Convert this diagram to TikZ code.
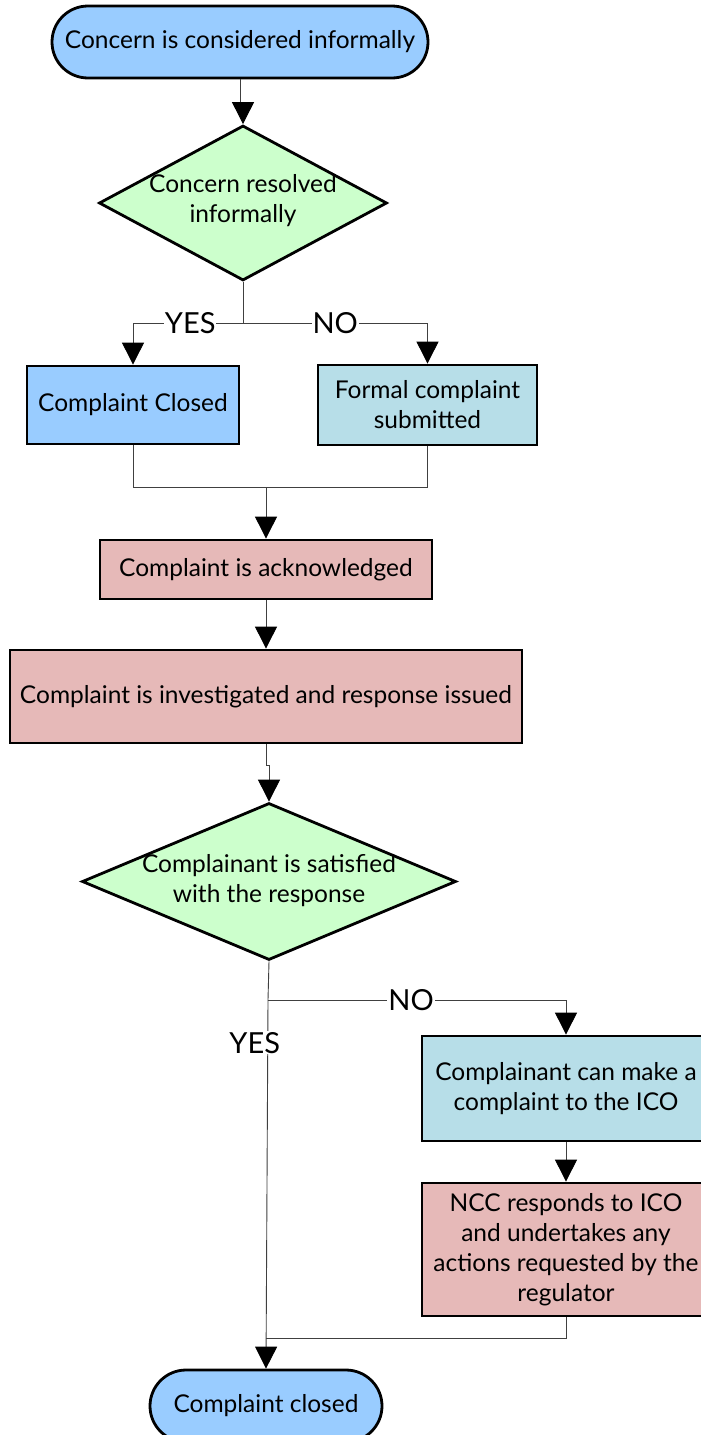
\documentclass[tikz,border=0pt]{standalone}
\usepackage{fontspec}
\setmainfont{Lato}
\usetikzlibrary{shapes.geometric, arrows.meta}
\definecolor{termblue}{RGB}{153, 204, 255}
\definecolor{decgreen}{RGB}{204, 255, 204}
\definecolor{formteal}{RGB}{183, 222, 232}
\definecolor{actrose}{RGB}{230, 185, 184}

\begin{document}
\begin{tikzpicture}[x=1pt, y=-1pt,
    every node/.style={font=\fontsize{24.5}{30}\selectfont},
    term/.style={rectangle, rounded corners=36pt, draw=black, line width=2.8pt, fill=termblue, minimum height=72pt, inner sep=1pt},
    process/.style={rectangle, draw=black, line width=2.8pt, align=center, inner sep=1pt},
    decision/.style={diamond, draw=black, line width=2.8pt, fill=decgreen, inner sep=0pt},
    tag/.style={fill=white, inner sep=1pt, font=\fontsize{29}{30}\selectfont},
    flow/.style={line width=0.9pt, draw=black!75},
    flowarr/.style={flow, -{Triangle[length=22pt, width=22pt, black]}}]
    \path[use as bounding box, fill=white] (0,0) rectangle (701,1435);

    % boxes
    \node[term, minimum width=376pt] (start) at (240,42) {Concern is considered informally};
    \node[decision, minimum width=288pt, minimum height=155pt] (dec1) at (243,203) {};
    \node[align=center] (dec1txt) at (243,201) {Concern resolved\\informally};
    \node[process, fill=termblue, minimum width=212pt, minimum height=78pt] (closed1) at (133,405) {Complaint Closed};
    \node[process, fill=formteal, minimum width=219pt, minimum height=80pt] (formal) at (427.5,405) {Formal complaint\\submitted};
    \node[process, fill=actrose, minimum width=332pt, minimum height=59pt] (ack) at (266,569.5) {Complaint is acknowledged};
    \node[process, fill=actrose, minimum width=512pt, minimum height=93pt] (invest) at (266,696.5) {Complaint is investigated and response issued};
    \node[decision, minimum width=374pt, minimum height=157pt] (dec2) at (269,881.5) {};
    \node[align=center] (dec2txt) at (269,881) {Complainant is satisfied\\with the response};
    \node[process, fill=formteal, minimum width=288pt, minimum height=105pt] (ico) at (566,1088.5) {Complainant can make a\\complaint to the ICO};
    \node[process, fill=actrose, minimum width=288pt, minimum height=133pt] (ncc) at (566,1249.5) {NCC responds to ICO\\and undertakes any\\actions requested by the\\regulator};
    \node[term, minimum width=232pt] (finish) at (266,1406) {Complaint closed};

    % bends
    \coordinate (drop) at (240,102);
    \coordinate (split1) at (243,323);
    \coordinate (merge1) at (266,487);
    \coordinate (jog) at (266,765);
    \coordinate (split2) at (268,1000);
    \coordinate (merge2) at (266,1338);

    % connectors
    \draw[flowarr] (start.south) -- (drop) -| (dec1.north);
    \draw[flow] (dec1.south) -- (split1);
    \draw[flowarr] (split1) -| node[tag, pos=0.24] {YES} (closed1.north);
    \draw[flowarr] (split1) -| node[tag, pos=0.25] {NO} (formal.north);
    \draw[flow] (closed1.south) |- (merge1);
    \draw[flow] (formal.south) |- (merge1);
    \draw[flowarr] (merge1) -- (ack.north);
    \draw[flowarr] (ack) -- (invest);
    \draw[flowarr] (invest.south) -- (jog) -| (dec2.north);
    \draw[flow] (dec2.south) -- (split2);
    \draw[flowarr] (split2) -| node[tag, pos=0.24] {NO} (ico.north);
    \draw[flowarr] (split2) -- node[tag, pos=0.116, xshift=-13pt] {YES} (finish.north);
    \draw[flowarr] (ico) -- (ncc);
    \draw[flow] (ncc.south) |- (merge2);
\end{tikzpicture}
\end{document}
